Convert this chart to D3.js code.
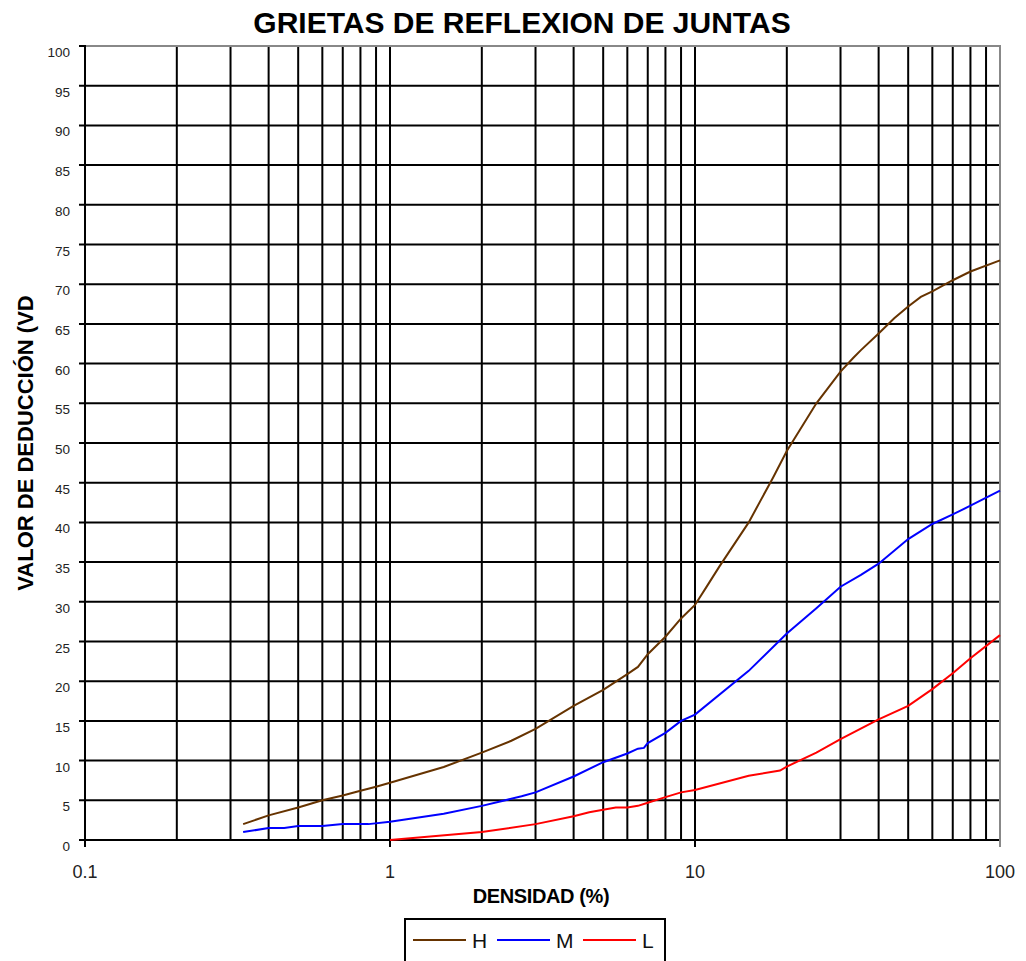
<!DOCTYPE html>
<html lang="es">
<head>
<meta charset="utf-8">
<title>Grietas de reflexion de juntas</title>
<script src="https://cdn.jsdelivr.net/npm/d3@7"></script>
<style>
  body { margin: 0; background: #fff; }
  svg { display: block; font-family: Arial, "Liberation Sans", sans-serif; }
</style>
</head>
<body>
<svg id="chart" width="1026" height="961"></svg>
<script>
// curvas
const hDensity = [0.33, 0.4, 0.5, 0.6, 0.7, 0.8, 0.9, 1, 1.5, 2, 2.5, 3, 4, 5, 6, 6.5, 7, 8, 9, 10, 11, 12, 15, 18, 20, 25, 30, 33, 35, 40, 45, 50, 55, 60, 70, 80, 100];
const hValue = [2.0, 3.1, 4.1, 5.0, 5.6, 6.2, 6.7, 7.2, 9.2, 11.0, 12.5, 14.0, 16.9, 18.9, 20.9, 21.8, 23.4, 25.6, 27.9, 29.6, 32.1, 34.4, 40.0, 45.6, 49.0, 55.0, 59.0, 60.7, 61.7, 63.8, 65.7, 67.2, 68.4, 69.1, 70.5, 71.6, 73.0];

const mDensity = [0.33, 0.4, 0.45, 0.5, 0.6, 0.7, 0.85, 1, 1.5, 2, 2.7, 3, 4, 5, 6, 6.5, 6.8, 7, 8, 9, 10, 15, 20, 25, 30, 35, 40, 50, 60, 70, 80, 100];
const mValue = [1.0, 1.5, 1.5, 1.75, 1.75, 2.0, 2.0, 2.3, 3.3, 4.3, 5.5, 6.0, 8.0, 9.8, 10.9, 11.5, 11.6, 12.2, 13.5, 15.0, 15.8, 21.3, 26.0, 29.2, 31.9, 33.4, 34.8, 37.9, 39.8, 41.0, 42.1, 44.0];

const lDensity = [1, 2, 3, 4, 4.5, 5, 5.5, 6, 6.5, 7, 8, 9, 10, 15, 19, 20, 25, 30, 40, 50, 60, 70, 80, 100];
const lValue = [0, 1.0, 2.0, 3.0, 3.5, 3.8, 4.1, 4.1, 4.3, 4.7, 5.4, 6.0, 6.3, 8.1, 8.75, 9.25, 11.0, 12.7, 15.2, 16.9, 19.0, 21.0, 22.9, 25.8];

const seriesNames = ['H', 'M', 'L'];
const seriesColors = ['#663300', '#0000ff', '#ff0000'];
const xTickValues = [0.1, 1, 10, 100];
const yTickValues = d3.range(0, 101, 5);

const series = [
  { name: seriesNames[0], color: seriesColors[0], pts: hDensity.map((d, i) => [d, hValue[i]]) },
  { name: seriesNames[1], color: seriesColors[1], pts: mDensity.map((d, i) => [d, mValue[i]]) },
  { name: seriesNames[2], color: seriesColors[2], pts: lDensity.map((d, i) => [d, lValue[i]]) }
];

const svg = d3.select('#chart');

const x = d3.scaleLog().domain([0.1, 100]).range([85, 1000]);
const y = d3.scaleLinear().domain([0, 100]).range([840, 46]);

// lineas verticales: 1..9 en cada decada
const vLines = [];
[0.1, 1, 10].forEach(dec => { for (let k = 1; k <= 9; k++) vLines.push(dec * k); });

svg.append('g').selectAll('line')
  .data(vLines)
  .enter().append('line')
  .attr('x1', d => x(d)).attr('x2', d => x(d))
  .attr('y1', y(0)).attr('y2', y(100))
  .attr('stroke', '#000').attr('stroke-width', 2);

svg.append('g').selectAll('line')
  .data(yTickValues.slice(0, -1))
  .enter().append('line')
  .attr('x1', 79).attr('x2', 1000)
  .attr('y1', d => y(d)).attr('y2', d => y(d))
  .attr('stroke', '#000').attr('stroke-width', 2);

// borde superior y derecho gris
svg.append('line').attr('x1', 85).attr('x2', 1001).attr('y1', y(100)).attr('y2', y(100))
  .attr('stroke', '#888').attr('stroke-width', 2);
svg.append('line').attr('x1', 79).attr('x2', 85).attr('y1', y(100)).attr('y2', y(100))
  .attr('stroke', '#000').attr('stroke-width', 2);
svg.append('line').attr('x1', x(100)).attr('x2', x(100)).attr('y1', y(100)).attr('y2', y(0))
  .attr('stroke', '#888').attr('stroke-width', 2);

// ejes
svg.append('line').attr('x1', 85).attr('x2', 85).attr('y1', y(100) - 1).attr('y2', y(0))
  .attr('stroke', '#000').attr('stroke-width', 2);
svg.append('g').selectAll('line')
  .data(xTickValues)
  .enter().append('line')
  .attr('x1', d => x(d)).attr('x2', d => x(d))
  .attr('y1', y(0)).attr('y2', y(0) + 7)
  .attr('stroke', d => d === 100 ? '#888' : '#000').attr('stroke-width', 2);

svg.append('g').selectAll('text')
  .data(yTickValues)
  .enter().append('text')
  .attr('x', 70).attr('y', d => y(d) + 11)
  .attr('text-anchor', 'end')
  .attr('font-size', 13.5).attr('fill', '#222')
  .text(d => d);

svg.append('g').selectAll('text')
  .data(xTickValues)
  .enter().append('text')
  .attr('x', d => x(d)).attr('y', 878)
  .attr('text-anchor', 'middle')
  .attr('font-size', 18).attr('fill', '#222')
  .text(d => d);

// curvas
const line = d3.line().x(d => x(d[0])).y(d => y(d[1]));
svg.append('g').selectAll('path')
  .data(series)
  .enter().append('path')
  .attr('d', d => line(d.pts))
  .attr('fill', 'none')
  .attr('stroke', d => d.color)
  .attr('stroke-width', 2);

// titulos
svg.append('text')
  .attr('x', 522).attr('y', 33)
  .attr('text-anchor', 'middle')
  .attr('font-size', 30).attr('font-weight', 'bold')
  .text('GRIETAS DE REFLEXION DE JUNTAS');

svg.append('text')
  .attr('x', 541).attr('y', 903)
  .attr('text-anchor', 'middle')
  .attr('font-size', 20).attr('font-weight', 'bold')
  .attr('letter-spacing', -0.4)
  .text('DENSIDAD (%)');

svg.append('text')
  .attr('transform', 'translate(33,443) rotate(-90)')
  .attr('text-anchor', 'middle')
  .attr('font-size', 22).attr('font-weight', 'bold')
  .text('VALOR DE DEDUCCIÓN (VD');

// leyenda
const legend = svg.append('g').attr('transform', 'translate(405,919)');
legend.append('rect')
  .attr('width', 260).attr('height', 60)
  .attr('fill', '#fff').attr('stroke', '#000').attr('stroke-width', 2);

const legX = [8, 92, 178];
const item = legend.selectAll('g.item')
  .data(series)
  .enter().append('g')
  .attr('class', 'item')
  .attr('transform', (d, i) => `translate(${legX[i]},21)`);
item.append('line')
  .attr('x1', 0).attr('x2', 53)
  .attr('stroke', d => d.color).attr('stroke-width', 2);
item.append('text')
  .attr('x', 59).attr('y', 8)
  .attr('font-size', 21).attr('fill', '#111')
  .text(d => d.name);
</script>
</body>
</html>
